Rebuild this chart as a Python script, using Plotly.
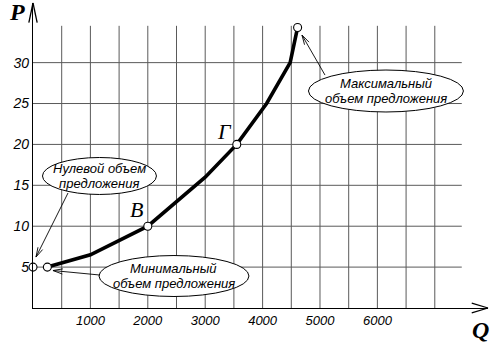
import math
import plotly.graph_objects as go

# Supply curve: quantity offered (Q) against price (P)
q_curve = [250, 1000, 2000, 3000, 3550, 4070, 4480, 4610]
p_curve = [5, 6.5, 10, 16, 20, 25, 30, 34.3]

# Highlighted points drawn as hollow circles
q_marked = [0, 250, 2000, 3550, 4610]
p_marked = [5, 5, 10, 20, 34.3]

# Named points on the curve
point_names = ["B", "Г"]
point_q = [2000, 3550]
point_p = [10, 20]

x_ticks = [1000, 2000, 3000, 4000, 5000, 6000]
y_ticks = [5, 10, 15, 20, 25, 30]
x_grid = [500 * i for i in range(1, 15)]
y_grid = [5, 10, 15, 20, 25, 30]

# Page geometry
W, H = 500, 345
ML, MR, MT, MB = 33, 12, 3, 37
PW, PH = W - ML - MR, H - MT - MB
X_MAX, Y_MAX = 7927, 37.29
GRID_TOP_P = 34.5
GRID_RIGHT_Q = 7470


def to_px(q, p):
    return ML + q / X_MAX * PW, MT + PH - p / Y_MAX * PH


def px_to_paper(x, y):
    return (x - ML) / PW, (MT + PH - y) / PH


def paper_line(x0, y0, x1, y1, width=1.0, color="black"):
    a = px_to_paper(x0, y0)
    b = px_to_paper(x1, y1)
    return dict(type="line", xref="paper", yref="paper",
                x0=a[0], y0=a[1], x1=b[0], y1=b[1],
                line=dict(color=color, width=width), layer="above")


def open_head(tail_px, tip_px, length, spread_deg, width):
    """Two strokes forming an open V arrowhead at tip_px."""
    dx, dy = tip_px[0] - tail_px[0], tip_px[1] - tail_px[1]
    ang = math.atan2(dy, dx)
    out = []
    for s in (-1, 1):
        a = ang + math.pi + s * math.radians(spread_deg)
        ex = tip_px[0] + length * math.cos(a)
        ey = tip_px[1] + length * math.sin(a)
        out.append(paper_line(ex, ey, tip_px[0], tip_px[1], width))
    return out


def arrow(tail, tip, length=10, spread=16, width=1.0):
    t0 = to_px(*tail)
    t1 = to_px(*tip)
    return [paper_line(t0[0], t0[1], t1[0], t1[1], width)] + open_head(t0, t1, length, spread, width)


shapes = []

# grid
for q in x_grid:
    shapes.append(dict(type="line", xref="x", yref="y", x0=q, x1=q, y0=0, y1=GRID_TOP_P,
                       line=dict(color="#5a5a5a", width=1), layer="below"))
for p in y_grid:
    shapes.append(dict(type="line", xref="x", yref="y", x0=0, x1=GRID_RIGHT_Q, y0=p, y1=p,
                       line=dict(color="#5a5a5a", width=1), layer="below"))

# axis arrowheads
shapes += open_head(to_px(0, 0), to_px(X_MAX, 0), 17, 17, 1.3)
shapes += open_head(to_px(0, 0), to_px(0, Y_MAX), 20, 12, 1.3)

# callouts: ellipse centre, size, line texts, arrow tail and tip (data units)
callouts = [
    dict(lines=["Нулевой объем", "предложения"], c=(1158, 16.14), w=1986, h=4.52,
         tail=(610, 14.06), tip=(52, 6.23)),
    dict(lines=["Минимальный", "объем предложения"], c=(2456, 3.91), w=2613, h=5.01,
         tail=(1167, 4.03), tip=(348, 4.58)),
    dict(lines=["Максимальный", "объем предложения"], c=(6149, 26.53), w=2700, h=5.13,
         tail=(5087, 28.48), tip=(4686, 33.37)),
]

SANS_I = dict(family="Liberation Sans", color="black")
SERIF = dict(family="Liberation Serif", color="black")

annotations = []
for co in callouts:
    cq, cp = co["c"]
    shapes.append(dict(type="circle", xref="x", yref="y",
                       x0=cq - co["w"] / 2, x1=cq + co["w"] / 2,
                       y0=cp - co["h"] / 2, y1=cp + co["h"] / 2,
                       fillcolor="white", line=dict(color="black", width=1), layer="above"))
    shapes += arrow(co["tail"], co["tip"], length=10, spread=15, width=0.9)
    for i, line in enumerate(co["lines"]):
        annotations.append(dict(x=cq, y=cp, xref="x", yref="y", text=f"<i>{line}</i>",
                                showarrow=False, yshift=7.5 - 15 * i,
                                xanchor="center", yanchor="middle",
                                font=dict(SANS_I, size=13)))

# point names
for name, q, p, dx, dy in zip(point_names, point_q, point_p, [-11, -12], [17, 13]):
    annotations.append(dict(x=q, y=p, xref="x", yref="y", text=f"<i>{name}</i>", showarrow=False,
                            xshift=dx, yshift=dy, xanchor="center", yanchor="middle",
                            font=dict(SERIF, size=22)))

# axis titles
px_p = px_to_paper(17, 12)
px_q = px_to_paper(480, 330)
annotations.append(dict(x=px_p[0], y=px_p[1], xref="paper", yref="paper", text="<b><i>P</i></b>",
                        showarrow=False, xanchor="center", yanchor="middle",
                        font=dict(SERIF, size=24)))
annotations.append(dict(x=px_q[0], y=px_q[1], xref="paper", yref="paper", text="<b><i>Q</i></b>",
                        showarrow=False, xanchor="center", yanchor="middle",
                        font=dict(SERIF, size=24)))

fig = go.Figure()
fig.add_trace(go.Scatter(x=q_curve, y=p_curve, mode="lines",
                         line=dict(color="black", width=3.6), hoverinfo="skip"))
fig.add_trace(go.Scatter(x=q_marked, y=p_marked, mode="markers", cliponaxis=False,
                         marker=dict(size=8, color="white", line=dict(color="black", width=1.1)),
                         hoverinfo="skip"))

fig.update_layout(
    width=W, height=H, autosize=False,
    margin=dict(l=ML, r=MR, t=MT, b=MB, pad=0),
    paper_bgcolor="white", plot_bgcolor="white",
    showlegend=False,
    shapes=shapes, annotations=annotations,
    xaxis=dict(range=[0, X_MAX], showgrid=False, zeroline=False, showline=True,
               linecolor="black", linewidth=1.3, ticks="",
               tickvals=x_ticks, ticktext=[f"<i>{v}</i>" for v in x_ticks],
               tickfont=dict(SANS_I, size=13), fixedrange=True),
    yaxis=dict(range=[0, Y_MAX], showgrid=False, zeroline=False, showline=True,
               linecolor="black", linewidth=1.3, ticks="",
               tickvals=y_ticks, ticktext=[f"<i>{v}</i>" for v in y_ticks],
               tickfont=dict(SANS_I, size=14), fixedrange=True),
)

fig.write_html("out.html", config={"displayModeBar": False})
